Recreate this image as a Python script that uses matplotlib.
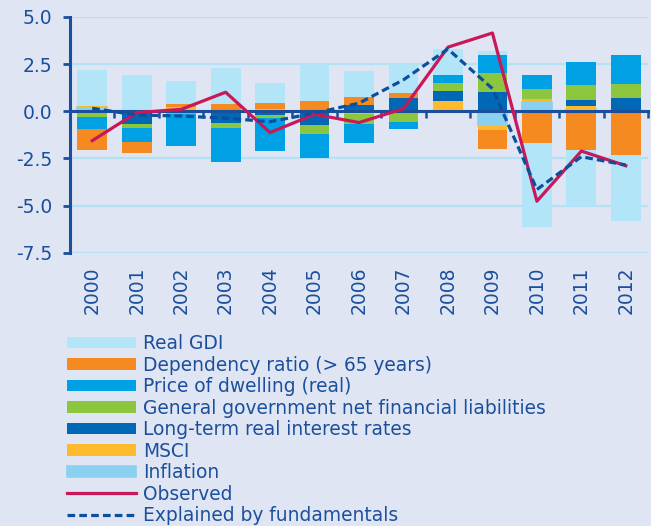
import numpy as np
import matplotlib.pyplot as plt
from matplotlib.patches import Patch
from matplotlib.lines import Line2D

plt.rcParams["font.family"] = "DejaVu Sans"
plt.rcParams["axes.unicode_minus"] = False


# =============================================================================
# Data (contributions, percentage points)
# =============================================================================

years = [str(y) for y in range(2000, 2013)]

inflation = [0.20, 0.0, 0.0, 0.0, 0.0, 0.0, 0.0, 0.0, 0.0, -0.78, 0.51, 0.14, 0.0]
msci = [0.08, 0.0, 0.20, 0.08, 0.10, 0.05, -0.15, 0.0, 0.55, -0.21, 0.16, 0.14, 0.0]
long_term_rates = [-0.10, -0.67, -0.10, -0.62, -0.20, -0.73, 0.32, 0.71, 0.50, 1.03, 0.0, 0.32, 0.73]
gov_liabilities = [-0.21, -0.21, -0.05, -0.28, -0.14, -0.46, -0.55, -0.57, 0.44, 0.99, 0.51, 0.80, 0.71]
dwelling_price = [-0.64, -0.76, -1.69, -1.77, -1.75, -1.29, -0.97, -0.39, 0.41, 0.98, 0.74, 1.19, 1.56]
dependency_ratio = [-1.13, -0.55, 0.16, 0.30, 0.35, 0.50, 0.46, 0.25, 0.0, -1.01, -1.67, -2.06, -2.32]
real_gdi = [1.93, 1.90, 1.22, 1.91, 1.05, 1.88, 1.37, 1.60, 1.42, 0.18, -4.47, -2.96, -3.49]

observed = [-1.56, -0.07, 0.10, 1.01, -1.13, -0.16, -0.60, 0.14, 3.40, 4.15, -4.77, -2.11, -2.89]
explained = [0.16, -0.20, -0.25, -0.37, -0.55, -0.10, 0.43, 1.67, 3.30, 1.20, -4.15, -2.41, -2.85]

y_ticks = [-7.5, -5.0, -2.5, 0.0, 2.5, 5.0]


# =============================================================================
# Style
# =============================================================================

bg_color = "#dfe5f2"
text_color = "#1b4f9c"
grid_color = "#b3e2f6"

series = [
    ("Inflation", inflation, "#8ad0f0"),
    ("MSCI", msci, "#ffb92d"),
    ("Long-term real interest rates", long_term_rates, "#0068b5"),
    ("General government net financial liabilities", gov_liabilities, "#8cc63e"),
    ("Price of dwelling (real)", dwelling_price, "#00a1e4"),
    ("Dependency ratio (> 65 years)", dependency_ratio, "#f58a20"),
    ("Real GDI", real_gdi, "#b3e5f8"),
]

legend_order = [
    "Real GDI",
    "Dependency ratio (> 65 years)",
    "Price of dwelling (real)",
    "General government net financial liabilities",
    "Long-term real interest rates",
    "MSCI",
    "Inflation",
]


# =============================================================================
# Visualization
# =============================================================================

fig = plt.figure(figsize=(6.51, 5.26), dpi=100, facecolor=bg_color)
ax = fig.add_axes([0.1075, 0.5196, 0.888, 0.4481])
ax.set_facecolor(bg_color)

x = np.arange(len(years))
width = 0.67

pos_base = np.zeros(len(years))
neg_base = np.zeros(len(years))
handles = {}

for name, values, color in series:
    values = np.array(values)
    pos = np.where(values > 0, values, 0.0)
    neg = np.where(values < 0, values, 0.0)
    edge = color if name == "Inflation" else "none"
    lw = 1.2 if name == "Inflation" else 0
    ax.bar(x, pos, width, bottom=pos_base, color=color,
           edgecolor=edge, linewidth=lw, zorder=1)
    ax.bar(x, neg, width, bottom=neg_base, color=color,
           edgecolor=edge, linewidth=lw, zorder=1)
    pos_base += pos
    neg_base += neg
    handles[name] = Patch(facecolor=color, edgecolor=edge, linewidth=lw)

ax.plot(x, observed, color="#c8185a", linewidth=2.3, zorder=3)
ax.plot(x, explained, color="#0d4f9f", linewidth=2.3,
        dashes=(2.4, 1.3), zorder=4)

ax.set_xlim(-0.5, 12.5)
ax.set_ylim(-7.5, 5.0)

# y axis
ax.set_yticks(y_ticks)
ax.set_yticklabels([f"{v:.1f}" for v in y_ticks])
ax.tick_params(axis="y", colors=text_color, labelsize=13.5, length=5,
               width=2, pad=8)
ax.yaxis.grid(True, color=grid_color, linewidth=1.6)
ax.set_axisbelow(True)

for side in ["top", "right"]:
    ax.spines[side].set_visible(False)
ax.spines["left"].set_color(text_color)
ax.spines["left"].set_linewidth(2.2)

# zero line with ticks between years
ax.spines["bottom"].set_position(("data", 0))
ax.spines["bottom"].set_color(text_color)
ax.spines["bottom"].set_linewidth(2.2)
ax.spines["bottom"].set_zorder(2.5)
ax.set_xticks(x)
ax.set_xticklabels([])
ax.set_xticks(np.arange(-0.5, 13.0, 1.0), minor=True)
ax.tick_params(axis="x", which="major", length=0)
ax.tick_params(axis="x", which="minor", length=5, width=1.8,
               color=text_color, direction="out")

# year labels at the bottom
sec = ax.secondary_xaxis("bottom")
sec.set_xticks(x)
sec.set_xticklabels(years, rotation=90)
sec.tick_params(length=0, pad=10, labelsize=13.5, colors=text_color)
sec.spines["bottom"].set_visible(False)

legend_handles = [handles[name] for name in legend_order]
legend_handles += [
    Line2D([], [], color="#c8185a", linewidth=2.3),
    Line2D([], [], color="#0d4f9f", linewidth=2.3, dashes=(2.4, 1.3)),
]
legend_labels = legend_order + ["Observed", "Explained by fundamentals"]

fig.legend(
    legend_handles,
    legend_labels,
    loc="upper left",
    bbox_to_anchor=(67 / 651, 1 - 334 / 526),
    frameon=False,
    fontsize=13.4,
    labelcolor=text_color,
    handlelength=3.7,
    handleheight=0.55,
    handletextpad=0.38,
    labelspacing=0.135,
    borderpad=0,
    borderaxespad=0,
)

fig.savefig("out.png", dpi=100, facecolor=bg_color)
